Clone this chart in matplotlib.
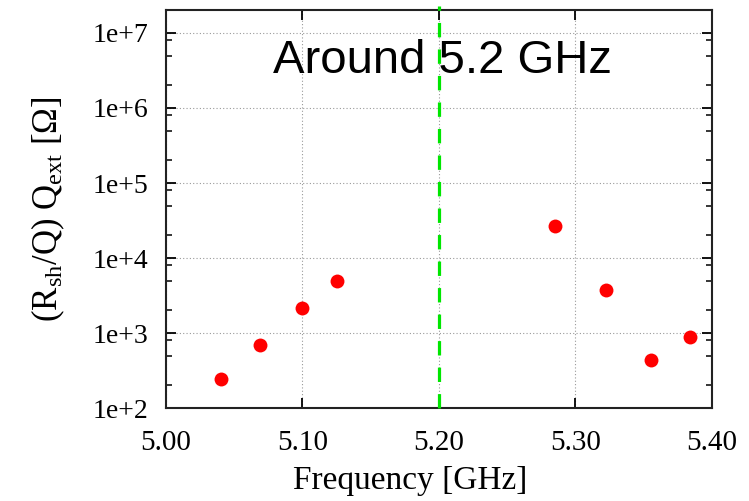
import matplotlib
matplotlib.use("Agg")
import matplotlib.pyplot as plt
from matplotlib.ticker import FixedLocator, NullFormatter, LogLocator

# frequency [GHz] and (Rsh/Q) Qext [Ohm]
freq = [5.040, 5.069, 5.100, 5.125, 5.285, 5.322, 5.3556, 5.3836]
rq_qext = [241, 686, 2150, 4900, 26400, 3700, 432, 885]

x_ticks = [5.00, 5.10, 5.20, 5.30, 5.40]
y_ticks = [1e2, 1e3, 1e4, 1e5, 1e6, 1e7]
y_tick_labels = ["1e+2", "1e+3", "1e+4", "1e+5", "1e+6", "1e+7"]
marker_freq = 5.20

plt.rcParams.update(
    {
        "font.family": "Liberation Serif",
        "mathtext.fontset": "custom",
        "mathtext.rm": "Liberation Serif",
        "mathtext.it": "Liberation Serif:italic",
    }
)

fig = plt.figure(figsize=(7.49, 5.01), dpi=100)
ax = fig.add_axes([0.2216, 0.1856, 0.729, 0.7954])

ax.set_yscale("log")
ax.set_xlim(5.0, 5.4)
ax.set_ylim(1e2, 10 ** 7.313)

ax.grid(True, which="major", color="#999999", linestyle=(0, (1, 2)), linewidth=0.8)

ax.plot(freq, rq_qext, linestyle="none", marker="o", markersize=10,
        color="#ff0000", markeredgewidth=0, zorder=3)

ax.axvline(marker_freq, ymin=0, ymax=1.01, color="#00e600", linewidth=2.3,
           linestyle=(0, (4.5, 3.8)), clip_on=False, zorder=4)

ax.text(5.0787, 10 ** 6.47, "Around 5.2 GHz", fontsize=34,
        family="Liberation Sans", ha="left", va="baseline", zorder=5)

ax.set_xticks(x_ticks)
ax.set_xticklabels([f"{v:.2f}" for v in x_ticks])
ax.yaxis.set_major_locator(FixedLocator(y_ticks))
ax.set_yticklabels(y_tick_labels)
ax.yaxis.set_minor_locator(LogLocator(base=10, subs=(2.0, 5.0, 8.0)))
ax.yaxis.set_minor_formatter(NullFormatter())

ax.tick_params(axis="both", which="major", direction="in", length=7, width=1.3,
               top=True, right=True, labelsize=20)
ax.tick_params(axis="x", which="major", pad=16, labelsize=21)
ax.tick_params(axis="y", which="major", pad=13)
ax.tick_params(axis="y", which="minor", direction="in", length=4, width=1.1,
               right=True)

for sp in ax.spines.values():
    sp.set_linewidth(1.5)
    sp.set_color("#222222")

ax.set_xlabel("Frequency [GHz]", fontsize=24)
ax.xaxis.set_label_coords(0.447, -0.145)
ax.set_ylabel(r"(R$_{\mathrm{sh}}$/Q) Q$_{\mathrm{ext}}$ [Ω]", fontsize=25)
ax.yaxis.set_label_coords(-0.181, 0.5)

fig.savefig("out.png", dpi=100)
